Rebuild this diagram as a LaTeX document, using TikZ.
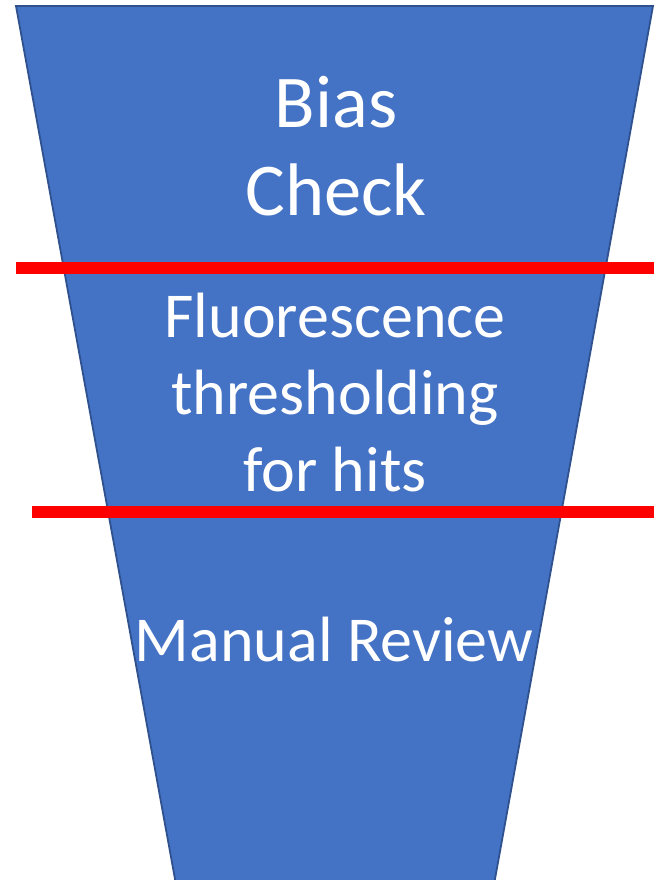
\documentclass[tikz,border=0pt]{standalone}
\usepackage{fontspec}
\setmainfont{Carlito}
\usetikzlibrary{positioning, calc}

\definecolor{funnelblue}{HTML}{4472C4}
\definecolor{funneledge}{HTML}{2F528F}

\begin{document}
\begin{tikzpicture}[x=1pt, y=-1pt,
    funnel/.style={fill=funnelblue, draw=funneledge, line width=1.8pt},
    cutline/.style={draw=red, line width=12pt},
    stagetext/.style={text=white, align=center, inner sep=0pt}]
        \useasboundingbox (0,0) rectangle (654,880);
        \clip (0,0) rectangle (654,880);
        \draw[funnel] (16,6) -- (653,6) -- (493,890) -- (177,890) -- cycle;

        \node (Bias) [stagetext, font=\fontsize{74.5}{88}\selectfont] at (336,146) {Bias\\Check};
        \node (Fluor) [stagetext, font=\fontsize{64}{77}\selectfont] at (335,393) {Fluorescence\\thresholding\\for hits};
        \node (Manual) [stagetext, font=\fontsize{64}{77}\selectfont] at (334,640) {Manual Review};

        \coordinate (CutA) at (16,268);
        \coordinate (CutB) at (32,512);
        \draw[cutline] (CutA) -- (CutA -| 654,0);
        \draw[cutline] (CutB) -- (CutB -| 654,0);
    \end{tikzpicture}
\end{document}
